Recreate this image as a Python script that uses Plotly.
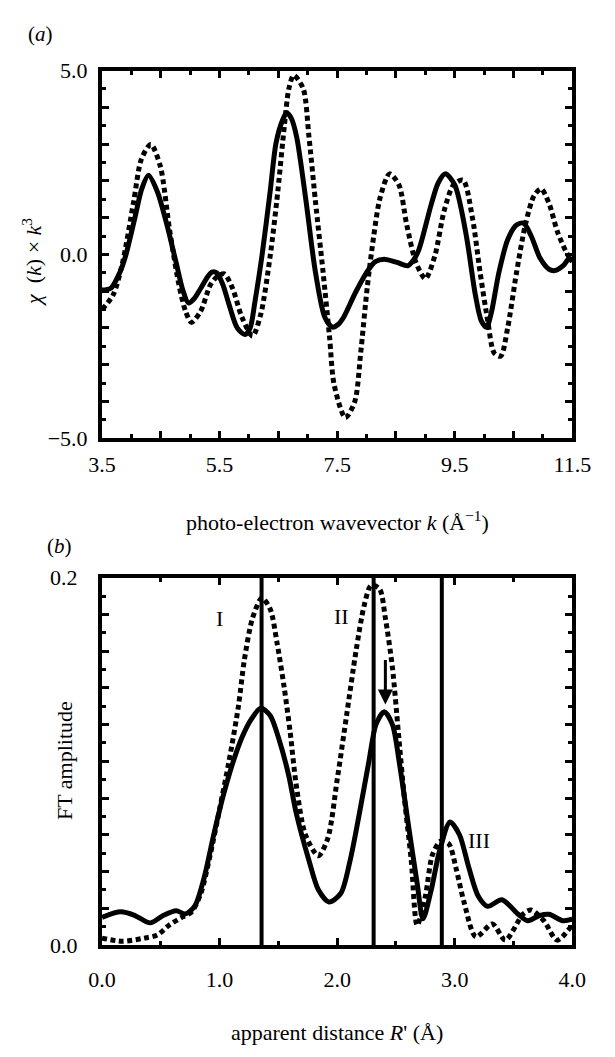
import plotly.graph_objects as go

# ---------------- data: panel (a) ----------------
k_solid = [3.5, 3.65, 3.8, 3.9, 4.06, 4.18, 4.29, 4.44, 4.6, 4.76, 4.88, 4.97, 5.07, 5.18, 5.3, 5.37,
           5.45, 5.55, 5.66, 5.8, 5.93, 6.02, 6.1, 6.22, 6.36, 6.46, 6.57, 6.64, 6.72, 6.81, 6.97,
           7.13, 7.29, 7.42, 7.52, 7.61, 7.82, 8.04, 8.15, 8.3, 8.52, 8.7, 8.8, 8.89, 9.1, 9.22,
           9.34, 9.5, 9.69, 9.85, 9.95, 10.04, 10.12, 10.25, 10.4, 10.55, 10.67, 10.8, 10.95, 11.1,
           11.2, 11.35, 11.45, 11.5]
chi_solid = [-0.97, -0.92, -0.5, -0.05, 1.0, 1.8, 2.15, 1.71, 0.83, -0.22, -1.0, -1.32, -1.2, -0.92,
             -0.6, -0.48, -0.5, -0.8, -1.36, -2.0, -2.18, -2.0, -1.3, -0.05, 1.71, 3.03, 3.65, 3.85,
             3.7, 3.2, 1.45, -0.48, -1.71, -1.98, -1.9, -1.71, -1.01, -0.4, -0.2, -0.13, -0.22,
             -0.31, -0.15, 0.13, 1.36, 1.95, 2.19, 1.89, 0.57, -1.1, -1.8, -1.98, -1.6, -0.5, 0.4,
             0.8, 0.85, 0.5, -0.1, -0.4, -0.44, -0.3, -0.1, -0.2]

k_dot = [3.5, 3.69, 3.85, 4.04, 4.17, 4.33, 4.49, 4.65, 4.81, 4.92, 5.02, 5.18, 5.34, 5.46, 5.58,
         5.72, 5.88, 6.06, 6.2, 6.36, 6.49, 6.6, 6.68, 6.76, 6.92, 7.02, 7.13, 7.26, 7.37, 7.45,
         7.64, 7.8, 7.9, 8.01, 8.12, 8.23, 8.39, 8.55, 8.68, 8.84, 9.0, 9.16, 9.32, 9.48, 9.64,
         9.8, 9.93, 10.06, 10.17, 10.28, 10.4, 10.55, 10.7, 10.85, 10.97, 11.1, 11.25, 11.4, 11.5]
chi_dot = [-1.5, -1.1, -0.22, 1.45, 2.59, 2.99, 2.41, 0.66, -0.84, -1.54, -1.85, -1.54, -0.84,
           -0.6, -0.53, -0.92, -1.71, -2.22, -1.63, -0.05, 1.71, 3.47, 4.52, 4.87, 4.52, 3.2,
           1.45, -0.48, -2.24, -3.56, -4.44, -4.0, -2.68, -0.92, 0.48, 1.54, 2.19, 1.89, 0.83,
           -0.22, -0.66, -0.05, 1.19, 1.89, 2.02, 1.0, -0.48, -1.8, -2.68, -2.77, -2.0, -0.5,
           0.8, 1.6, 1.78, 1.4, 0.6, 0.05, -0.2]

# ---------------- data: panel (b) ----------------
r_solid = [0.0, 0.16, 0.28, 0.41, 0.52, 0.63, 0.71, 0.79, 0.87, 0.95, 1.03, 1.11, 1.19, 1.27, 1.35,
           1.43, 1.51, 1.59, 1.65, 1.76, 1.84, 1.93, 2.03, 2.11, 2.19, 2.27, 2.33, 2.40, 2.47, 2.53,
           2.61, 2.68, 2.73, 2.80, 2.87, 2.96, 3.04, 3.12, 3.20, 3.28, 3.40, 3.54, 3.62, 3.72, 3.80,
           3.92, 4.0]
amp_solid = [0.015, 0.018, 0.016, 0.012, 0.016, 0.0186, 0.0169, 0.0213, 0.037, 0.060, 0.081, 0.0987,
             0.113, 0.123, 0.129, 0.125, 0.111, 0.0917, 0.0723, 0.046, 0.030, 0.0234, 0.028, 0.046,
             0.072, 0.100, 0.120, 0.127, 0.120, 0.0987, 0.0635, 0.0336, 0.0142, 0.030, 0.051,
             0.067, 0.060, 0.042, 0.0265, 0.021, 0.0246, 0.0167, 0.0132, 0.016, 0.0167, 0.0132,
             0.014]

r_dot = [0.0, 0.17, 0.36, 0.47, 0.57, 0.68, 0.76, 0.84, 0.92, 1.00, 1.08, 1.16, 1.21, 1.28, 1.36,
         1.43, 1.49, 1.55, 1.60, 1.65, 1.73, 1.84, 1.92, 2.00, 2.08, 2.16, 2.23, 2.29, 2.36, 2.41,
         2.47, 2.52, 2.57, 2.63, 2.68, 2.75, 2.81, 2.88, 2.95, 3.01, 3.08, 3.18, 3.32, 3.43, 3.58,
         3.65, 3.76, 3.87, 4.0]
amp_dot = [0.0037, 0.002, 0.0037, 0.0054, 0.0107, 0.0151, 0.0178, 0.028, 0.049, 0.074, 0.100, 0.130,
           0.155, 0.178, 0.189, 0.183, 0.164, 0.140, 0.116, 0.088, 0.060, 0.0486, 0.058, 0.090,
           0.125, 0.160, 0.185, 0.196, 0.194, 0.178, 0.151, 0.116, 0.081, 0.046, 0.0107, 0.0265,
           0.049, 0.0565, 0.055, 0.042, 0.023, 0.0044, 0.0114, 0.0026, 0.0167, 0.019, 0.013,
           0.0026, 0.011]

vlines_r = [1.357, 2.31, 2.89]
peak_labels = ["I", "II", "III"]
peak_label_r = [1.00, 2.04, 3.21]
peak_label_amp = [0.178, 0.179, 0.057]
arrow_r = 2.41
arrow_from_amp = 0.156
arrow_to_amp = 0.131

xa_ticks = [3.5, 4.5, 5.5, 6.5, 7.5, 8.5, 9.5, 10.5, 11.5]
xa_text = ["3.5", "", "5.5", "", "7.5", "", "9.5", "", "11.5"]
ya_ticks = [-5, -4, -3, -2, -1, 0, 1, 2, 3, 4, 5]
ya_text = ["\u22125.0", "", "", "", "", "0.0", "", "", "", "", "5.0"]
xb_ticks = [0, 1, 2, 3, 4]
xb_text = ["0.0", "1.0", "2.0", "3.0", "4.0"]
yb_ticks = [0, 0.02, 0.04, 0.06, 0.08, 0.10, 0.12, 0.14, 0.16, 0.18, 0.20]
yb_text = ["0.0", "", "", "", "", "", "", "", "", "", "0.2"]

W, H = 615, 1057
FONT = "Liberation Serif"
TICKFONT = dict(family=FONT, size=22, color="black")

fig = go.Figure()
fig.add_trace(go.Scatter(x=k_dot, y=chi_dot, mode="lines", xaxis="x", yaxis="y",
                         line=dict(color="black", width=5, dash="5px,3.5px", shape="spline", smoothing=0.8),
                         showlegend=False, hoverinfo="skip"))
fig.add_trace(go.Scatter(x=k_solid, y=chi_solid, mode="lines", xaxis="x", yaxis="y",
                         line=dict(color="black", width=5, shape="spline", smoothing=0.8),
                         showlegend=False, hoverinfo="skip"))
fig.add_trace(go.Scatter(x=r_dot, y=amp_dot, mode="lines", xaxis="x2", yaxis="y2",
                         line=dict(color="black", width=5, dash="5px,3.5px", shape="spline", smoothing=0.8),
                         showlegend=False, hoverinfo="skip"))
fig.add_trace(go.Scatter(x=r_solid, y=amp_solid, mode="lines", xaxis="x2", yaxis="y2",
                         line=dict(color="black", width=5, shape="spline", smoothing=0.8),
                         showlegend=False, hoverinfo="skip"))

for r in vlines_r:
    fig.add_shape(type="line", xref="x2", yref="y2 domain", x0=r, x1=r, y0=0, y1=1,
                  line=dict(color="black", width=4))

xdom = [93.0 / W, 590.0 / W]
ydom_a = [(H - 436.5) / H, (H - 60) / H]
ydom_b = [(H - 955.5) / H, (H - 579.5) / H]

common = dict(showline=True, linecolor="black", linewidth=4, mirror="ticks", ticks="inside",
              tickwidth=2.5, ticklen=7, tickcolor="black", showgrid=False, zeroline=False,
              tickfont=TICKFONT)

fig.update_layout(
    width=W, height=H, margin=dict(l=0, r=0, t=0, b=0),
    paper_bgcolor="white", plot_bgcolor="white",
    font=dict(family=FONT, color="black"),
    xaxis=dict(domain=xdom, range=[3.5, 11.5], anchor="y", tickmode="array",
               tickvals=xa_ticks, ticktext=xa_text,
               minor=dict(dtick=0.5, tick0=3.5, ticks="inside", ticklen=4, tickwidth=2.5, tickcolor="black"),
               ticklabelstandoff=3, **common),
    yaxis=dict(domain=ydom_a, range=[-5, 5], anchor="x", tickmode="array",
               tickvals=ya_ticks, ticktext=ya_text,
               minor=dict(dtick=0.5, tick0=0, ticks="inside", ticklen=4, tickwidth=2.5, tickcolor="black"),
               ticklabelstandoff=6, **common),
    xaxis2=dict(domain=xdom, range=[0, 4], anchor="y2", tickmode="array",
                tickvals=xb_ticks, ticktext=xb_text,
                minor=dict(dtick=0.5, tick0=0, ticks="inside", ticklen=4, tickwidth=2.5, tickcolor="black"),
                ticklabelstandoff=12, **common),
    yaxis2=dict(domain=ydom_b, range=[0, 0.2], anchor="x2", tickmode="array",
                tickvals=yb_ticks, ticktext=yb_text,
                minor=dict(dtick=0.01, tick0=0, ticks="inside", ticklen=4, tickwidth=2.5, tickcolor="black"),
                ticklabelstandoff=16, **common),
)

annos = []
for t, r, a in zip(peak_labels, peak_label_r, peak_label_amp):
    annos.append(dict(text=t, x=r, y=a, xref="x2", yref="y2", showarrow=False,
                      font=dict(family=FONT, size=22, color="black")))
annos.append(dict(x=arrow_r, y=arrow_to_amp, ax=arrow_r, ay=arrow_from_amp, xref="x2", yref="y2",
                  axref="x2", ayref="y2", text="", showarrow=True, arrowhead=2, arrowsize=1,
                  arrowwidth=3, arrowcolor="black"))


def pa(text, px, py, size=22, angle=0):
    return dict(text=text, x=px / W, y=1 - py / H, xref="paper", yref="paper", showarrow=False,
                textangle=angle, xanchor="center", yanchor="middle",
                font=dict(family=FONT, size=size, color="black"))


annos += [
    pa("(<i>a</i>)", 28, 23, 21),
    pa("(<i>b</i>)", 48, 547, 21),
    pa("<i>\u03c7</i> \u00a0(<i>k</i>) \u00d7 <i>k</i><sup>3</sup>", 19, 256, 22, -90),
    pa("photo-electron wavevector <i>k</i> (\u00c5<sup>\u22121</sup>)", 341.5, 521, 22),
    pa("FT amplitude", 54, 767, 22, -90),
    pa("apparent distance <i>R</i>' (\u00c5)", 341.5, 1045, 22),
]
fig.update_layout(annotations=annos)

fig.write_html("out.html")
